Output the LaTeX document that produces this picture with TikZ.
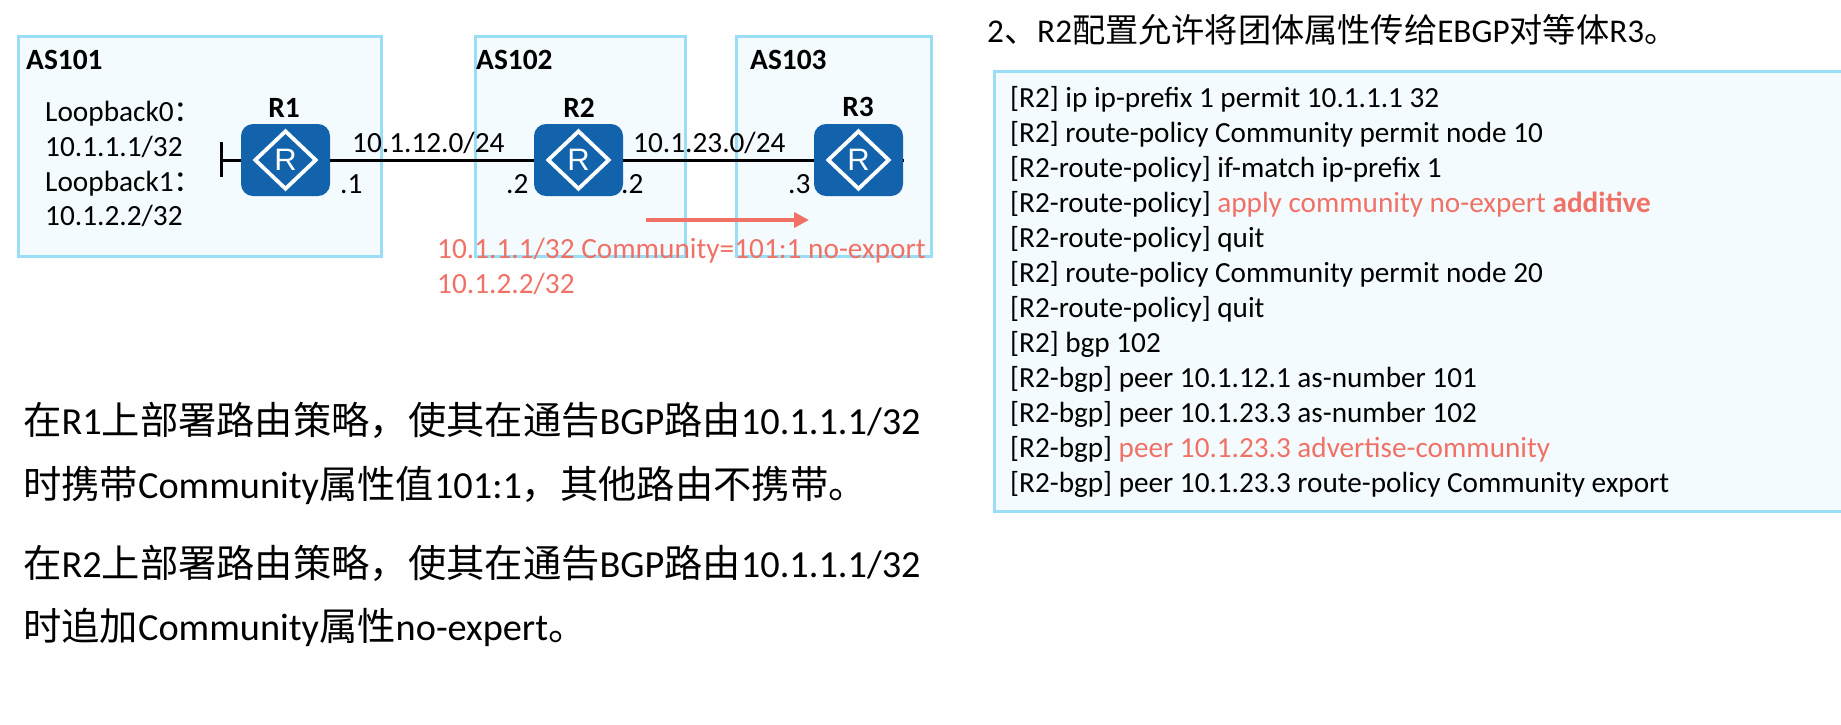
\documentclass[tikz,border=0pt]{standalone}
\usepackage{fontspec}
\usetikzlibrary{shapes.geometric,arrows.meta}
\setmainfont{Carlito}
\newfontfamily\cjk{Noto Sans CJK SC}
\newfontfamily\iconfont{Liberation Sans}
\definecolor{boxfill}{HTML}{F4FBFF}
\definecolor{boxline}{HTML}{99DDF7}
\definecolor{routerblue}{HTML}{1262AC}
\definecolor{salmon}{HTML}{F07266}
\newcommand{\fs}[1]{\fontsize{#1pt}{#1pt}\selectfont}
\newcommand{\zh}[1]{{\cjk #1}}
\tikzset{
  x=1pt,y=-1pt,
  asbox/.style={draw=boxline,fill=boxfill,line width=3pt},
  lab/.style={anchor=base west,inner sep=0pt,font=\fs{29.3}},
  blab/.style={anchor=base,inner sep=0pt,font=\fs{29.4}\bfseries},
  big/.style={anchor=base west,inner sep=0pt,font=\fs{38.3}},
  code/.style={anchor=base west,inner sep=0pt,font=\fs{29.2}},
  router/.style={draw=none,fill=routerblue,rounded corners=12pt,minimum width=89pt,minimum height=72pt,inner sep=0pt},
  rdiamond/.style={diamond,draw=white,line width=3.8pt,minimum width=62pt,minimum height=59pt,inner sep=0pt,text=white,font=\iconfont\fs{31}},
  link/.style={line width=3pt,draw=black},
}
\begin{document}
\begin{tikzpicture}
\useasboundingbox (0,0) rectangle (1841,724);
\fill[white] (0,0) rectangle (1841,724);
% AS boxes
\draw[asbox] (18,36) rectangle (381,256);
\draw[asbox] (475,36) rectangle (685,256);
\draw[asbox] (736,36) rectangle (931,256);
\draw[asbox] (994,71) rectangle (1845,511);
% routers
\node[router] (r1) at (285.5,160) {};
\node[rdiamond] (d1) at (r1.center) {R};
\node[router] (r2) at (578.5,160) {};
\node[rdiamond] (d2) at (r2.center) {R};
\node[router] (r3) at (858.5,160) {};
\node[rdiamond] (d3) at (r3.center) {R};
% links
\coordinate (stub) at (221,160);
\coordinate (stubtop) at (221,142);
\coordinate (stubbot) at (221,177);
\coordinate (tail) at (904,160);
\draw[link] (r1) -- (r2);
\draw[link] (r2) -- (r3);
\draw[link] (r3.east) -- (tail);
\draw[link] (stub) -- (r1.west);
\draw[link] (stubtop) -- (stubbot);
% arrow
\coordinate (arrowa) at (646,220);
\coordinate (arrowb) at (809,220);
\draw[salmon,line width=4pt,-{Triangle[length=15pt,width=15pt]}] (arrowa) -- (arrowb);
% labels
\node[lab,font=\fs{29.4}\bfseries] (as1) at (26,69) {AS101};
\node[lab,font=\fs{29.4}\bfseries] (as2) at (476,69) {AS102};
\node[lab,font=\fs{29.4}\bfseries] (as3) at (750,69) {AS103};
\node[blab] (n1) at (284,117) {R1};
\node[blab] (n2) at (579,117) {R2};
\node[blab] (n3) at (858,116) {R3};
\node[lab] (lb0) at (45,121) {Loopback0\zh{：}};
\node[lab] (ip0) at (45,156) {10.1.1.1/32};
\node[lab] (lb1) at (45,191) {Loopback1\zh{：}};
\node[lab] (ip1) at (45,225) {10.1.2.2/32};
\node[lab] (net1) at (352,152) {10.1.12.0/24};
\node[lab] (net2) at (633,152) {10.1.23.0/24};
\node[lab] (p1) at (340,193) {.1};
\node[lab] (p2) at (506,193) {.2};
\node[lab] (p3) at (621,193) {.2};
\node[lab] (p4) at (788,193) {.3};
\node[lab,text=salmon] (rt1) at (437,258) {10.1.1.1/32 Community=101:1 no-export};
\node[lab,text=salmon] (rt2) at (437,293) {10.1.2.2/32};
% heading
\node[lab,font=\fs{33.2}] (head) at (987,42) {2\zh{、}R2\zh{配置允许将团体属性传给}EBGP\zh{对等体}R3\zh{。}};
% config
\node[code] (c1) at (1010,107) {[R2] ip ip-prefix 1 permit 10.1.1.1 32};
\node[code] (c2) at (1010,142) {[R2] route-policy Community permit node 10};
\node[code] (c3) at (1010,177) {[R2-route-policy] if-match ip-prefix 1};
\node[code] (c4) at (1010,212) {[R2-route-policy] \textcolor{salmon}{apply community no-expert \textbf{additive}}};
\node[code] (c5) at (1010,247) {[R2-route-policy] quit};
\node[code] (c6) at (1010,282) {[R2] route-policy Community permit node 20};
\node[code] (c7) at (1010,317) {[R2-route-policy] quit};
\node[code] (c8) at (1010,352) {[R2] bgp 102};
\node[code] (c9) at (1010,387) {[R2-bgp] peer 10.1.12.1 as-number 101};
\node[code] (c10) at (1010,422) {[R2-bgp] peer 10.1.23.3 as-number 102};
\node[code] (c11) at (1010,457) {[R2-bgp] \textcolor{salmon}{peer 10.1.23.3 advertise-community}};
\node[code] (c12) at (1010,492) {[R2-bgp] peer 10.1.23.3 route-policy Community export};
% bottom text
\node[big] (t1) at (23,434) {\zh{在}R1\zh{上部署路由策略，使其在通告}BGP\zh{路由}10.1.1.1/32};
\node[big] (t2) at (23,498) {\zh{时携带}Community\zh{属性值}101:1\zh{，其他路由不携带。}};
\node[big] (t3) at (23,577) {\zh{在}R2\zh{上部署路由策略，使其在通告}BGP\zh{路由}10.1.1.1/32};
\node[big] (t4) at (23,640) {\zh{时追加}Community\zh{属性}no-expert\zh{。}};
\end{tikzpicture}
\end{document}
